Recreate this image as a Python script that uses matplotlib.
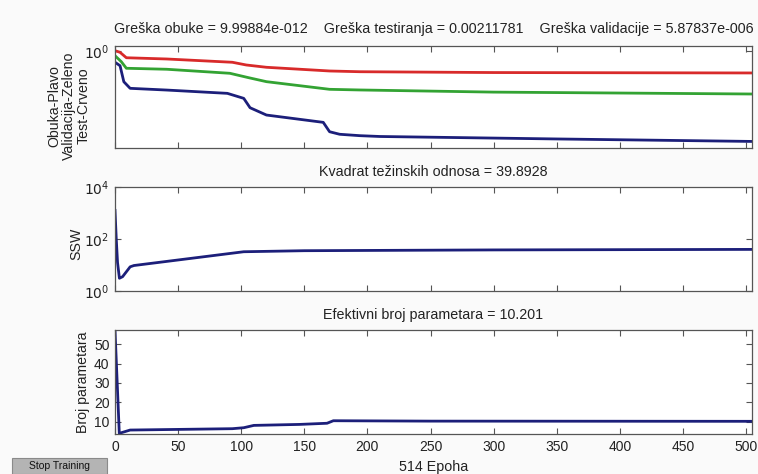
import matplotlib
matplotlib.use("Agg")
import matplotlib.pyplot as plt
import numpy as np
from matplotlib.patches import Rectangle

plt.rcParams['font.family'] = ['Liberation Sans', 'DejaVu Sans']

# ---- data ----
# Top panel: performance (log scale), epochs and log10 values
red_ep = [0, 4, 9, 41, 93, 104, 120, 170, 194, 300, 504]
red_log = [0.04, -0.16, -0.82, -0.97, -1.37, -1.70, -1.98, -2.43, -2.52, -2.62, -2.67]
green_ep = [0, 5, 9, 41, 91, 106, 120, 170, 194, 300, 504]
green_log = [-0.57, -1.30, -2.10, -2.22, -2.71, -3.25, -3.73, -4.66, -4.74, -5.0, -5.23]
blue_ep = [0, 4, 7, 12, 41, 89, 102, 107, 120, 165, 170, 178, 194, 210, 350, 504]
blue_log = [-1.37, -1.79, -3.74, -4.54, -4.75, -5.15, -5.76, -6.90, -7.79, -8.68,
            -9.82, -10.13, -10.30, -10.4, -10.7, -11.0]

# Middle panel: SSW (log10)
ssw_ep = [0, 1, 2, 3.5, 6, 12, 15, 102, 150, 300, 504]
ssw_log = [3.1, 2.0, 1.1, 0.49, 0.55, 0.93, 0.98, 1.51, 1.55, 1.58, 1.60]

# Bottom panel: effective number of parameters
par_ep = [0, 3.4, 12, 93, 102, 110, 146, 168, 173, 250, 504]
par_val = [57.3, 4.0, 5.7, 6.4, 6.9, 8.1, 8.6, 9.2, 10.5, 10.3, 10.2]

title_top = "Greška obuke = 9.99884e-012    Greška testiranja = 0.00211781    Greška validacije = 5.87837e-006"
title_mid = "Kvadrat težinskih odnosa = 39.8928"
title_bot = "Efektivni broj parametara = 10.201"
ylabel_top = ["Obuka-Plavo", "Validacija-Zeleno", "Test-Crveno"]
xlabel = "514 Epoha"
xticks = [0, 50, 100, 150, 200, 250, 300, 350, 400, 450, 500]
par_ticks = [10, 20, 30, 40, 50]

# ---- figure ----
W, H = 758, 474
fig = plt.figure(figsize=(W / 100, H / 100), dpi=100, facecolor='#fafafa')

def pos(top, bottom, left=115, right=752):
    return [left / W, 1 - bottom / H, (right - left) / W, (bottom - top) / H]

ax1 = fig.add_axes(pos(46, 148))
ax2 = fig.add_axes(pos(187, 291))
ax3 = fig.add_axes(pos(330, 434))

RED = '#d82a2a'
GREEN = '#33a333'
BLUE = '#1c1f7a'
LW = 2.0
TXT = '#222222'
FS = 10.3

ax1.semilogy(red_ep, 10 ** np.array(red_log), color=RED, lw=LW)
ax1.semilogy(green_ep, 10 ** np.array(green_log), color=GREEN, lw=LW)
ax1.semilogy(blue_ep, 10 ** np.array(blue_log), color=BLUE, lw=LW)
ax1.set_ylim(10 ** -11.8, 10 ** 0.61)
ax1.set_yticks([1])
ax1.set_yticklabels([r'$10^{0}$'])
ax1.minorticks_off()

ax2.semilogy(ssw_ep, 10 ** np.array(ssw_log), color=BLUE, lw=LW)
ax2.set_ylim(1, 1e4)
ax2.set_yticks([1, 1e2, 1e4])
ax2.set_yticklabels([r'$10^{0}$', r'$10^{2}$', r'$10^{4}$'])
ax2.minorticks_off()

ax3.plot(par_ep, par_val, color=BLUE, lw=LW)
ax3.set_ylim(3.66, 57.3)
ax3.set_yticks(par_ticks)

for ax in (ax1, ax2, ax3):
    ax.set_xlim(0, 504.7)
    ax.set_xticks(xticks)
    ax.set_facecolor('white')
    ax.tick_params(direction='in', length=4, width=0.8, top=True, right=True,
                   labelsize=10, colors='#555555', labelcolor=TXT, pad=4)
    for s in ax.spines.values():
        s.set_color('#555555')
        s.set_linewidth(0.9)

ax1.tick_params(labelbottom=False)
ax2.tick_params(labelbottom=False)

ax1.set_title(title_top, fontsize=FS, color=TXT, pad=9)
ax2.set_title(title_mid, fontsize=FS, color=TXT, pad=8)
ax3.set_title(title_bot, fontsize=FS, color=TXT, pad=8)

ax3.set_xlabel(xlabel, fontsize=FS, color=TXT, labelpad=5)

for i, line in enumerate(ylabel_top):
    fig.text((54 + 15 * i) / W, 1 - 106 / H, line, rotation=90, ha='center',
             va='center', fontsize=10.2, color=TXT)
fig.text(76 / W, 1 - 244 / H, "SSW", rotation=90, ha='center', va='center',
         fontsize=10.2, color=TXT)
fig.text(83 / W, 1 - 382 / H, "Broj parametara", rotation=90, ha='center',
         va='center', fontsize=10.2, color=TXT)

# Stop Training button
btn = Rectangle((12 / W, 0), 95 / W, 16 / H, transform=fig.transFigure,
                facecolor='#b4b4b4', edgecolor='#8a8a8a', lw=0.8)
fig.patches.append(btn)
fig.text(59.5 / W, 8 / H, "Stop Training", ha='center', va='center',
         fontsize=7.5, color='#111111')

fig.savefig('out.png', dpi=100, facecolor=fig.get_facecolor())
